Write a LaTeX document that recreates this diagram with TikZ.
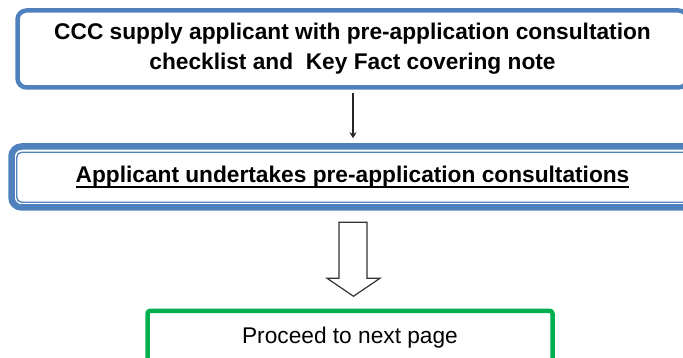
\documentclass[tikz,border=0pt]{standalone}
\usepackage{fontspec}
\setmainfont{Liberation Sans}
\usepackage{tikz}
\usetikzlibrary{positioning,arrows.meta,calc}
\definecolor{frameblue}{HTML}{4F81BD}
\definecolor{nextgreen}{HTML}{00B050}
\newcommand{\ultext}[1]{\setbox0\hbox{#1}\rlap{\rule[-5pt]{\wd0}{1.3pt}}\box0}

\begin{document}
\begin{tikzpicture}[
  x=1pt,y=1pt,
  bigfont/.style={font=\fontsize{22.7}{30}\selectfont},
  stepbox/.style={draw=frameblue,line width=4.5pt,rounded corners=9pt,align=center,bigfont,font=\fontsize{22.7}{30}\selectfont\bfseries},
  dblbox/.style={draw=frameblue,line width=6.5pt,rounded corners=10pt,align=center,font=\fontsize{22.7}{30}\selectfont\bfseries},
  nextbox/.style={draw=nextgreen,line width=4.5pt,rounded corners=3pt,align=center,bigfont},
  arr/.style={-{Stealth[length=6pt,width=7pt]},line width=1.3pt,black!85},
  hollow/.style={draw=black!80,line width=1.2pt,fill=white,line join=miter}
]
\path[use as bounding box] (0,0) rectangle (683,-358);
\clip (0,0) rectangle (683,-358);
\node[stepbox,minimum width=670pt,minimum height=77pt] (cc) at (352.5,-49)
  {CCC supply applicant with pre-application consultation\\checklist and\ \ Key Fact covering note};
\node[dblbox,minimum width=682pt,minimum height=61pt,below=53.5pt of cc] (ap)
  {\ultext{Applicant undertakes pre-application consultations}};
\node[nextbox,minimum width=405pt,minimum height=60pt,below=97.75pt of ap,xshift=-2.5pt,anchor=north] (nx)
  {\raisebox{11pt}{Proceed to next page}};
% inner line of the double frame
\draw[frameblue,line width=1.4pt,rounded corners=5pt]
  ([shift={(8.5pt,-9pt)}]ap.north west) rectangle ([shift={(-8.5pt,8.5pt)}]ap.south east);
\draw[arr] ([xshift=0.5pt,yshift=-3pt]cc.south) -- ([xshift=0.5pt,yshift=5pt]ap.north);
% open block arrow
\draw[hollow] ([xshift=-13.5pt,yshift=-11.5pt]ap.south) -- ++(0,-56) -- ++(-12,0)
  -- ++(26.5,-18) -- ++(26.5,18) -- ++(-13,0) -- ++(0,56) -- cycle;
\end{tikzpicture}
\end{document}
